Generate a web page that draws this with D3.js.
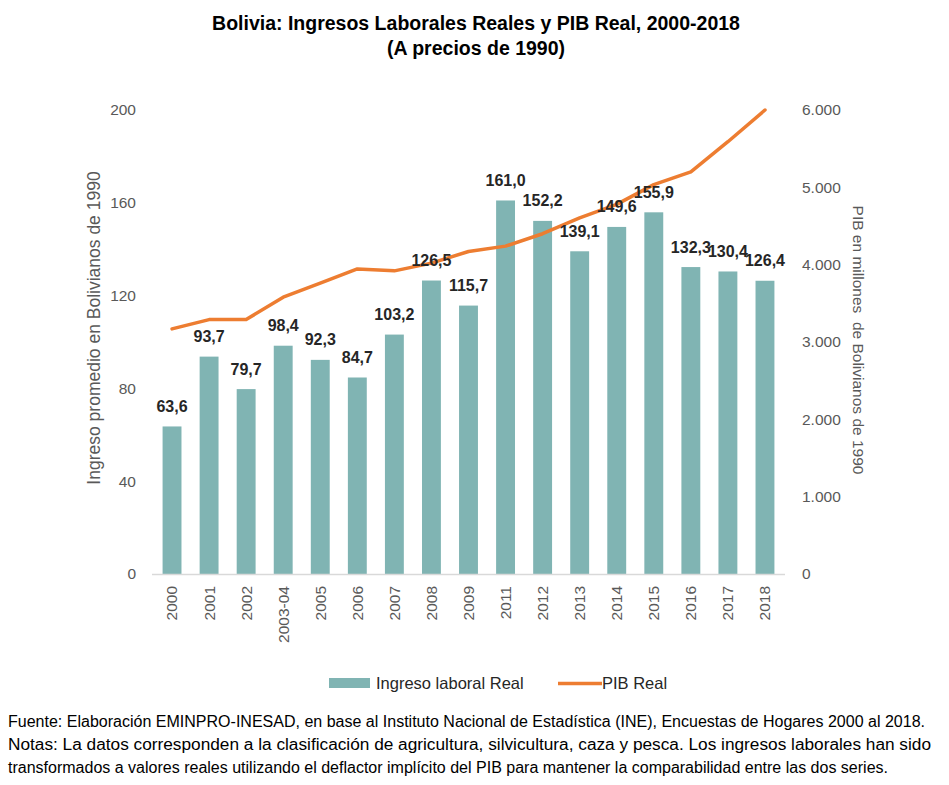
<!DOCTYPE html>
<html>
<head>
<meta charset="utf-8">
<script src="https://cdn.jsdelivr.net/npm/d3@7"></script>
<style>
  body { margin: 0; background: #fff; }
  svg { display: block; font-family: "Liberation Sans", Arial, sans-serif; }
</style>
</head>
<body>
<svg id="chart" width="949" height="785"></svg>
<script>
  // Data
  var categories = ['2000', '2001', '2002', '2003-04', '2005', '2006', '2007', '2008', '2009',
    '2011', '2012', '2013', '2014', '2015', '2016', '2017', '2018']
  var ingreso = [63.6, 93.7, 79.7, 98.4, 92.3, 84.7, 103.2, 126.5, 115.7,
    161.0, 152.2, 139.1, 149.6, 155.9, 132.3, 130.4, 126.4]
  var pib = [3170, 3290, 3290, 3580, 3760, 3945, 3920, 4020, 4170,
    4240, 4400, 4605, 4780, 5035, 5200, 5590, 6000]
  var leftTicks = [0, 40, 80, 120, 160, 200]
  var rightTicks = [0, 1000, 2000, 3000, 4000, 5000, 6000]

  var BAR_COLOR = '#80b4b3'
  var LINE_COLOR = '#ed7d31'
  var AXIS_TEXT = '#595959'
  var FONT = '"Liberation Sans", Arial, sans-serif'

  var svg = d3.select('#chart')
  var fmtComma = function (v) { return v.toFixed(1).replace('.', ',') }
  var fmtThousands = function (v) {
    return v === 0 ? '0' : d3.format(',')(v).replace(/,/g, '.')
  }

  // Scales
  var x = d3.scaleBand()
    .domain(categories)
    .range([153.5, 783.5])
    .paddingInner(0.49)
    .paddingOuter(0.245)
  var yL = d3.scaleLinear().domain([0, 200]).range([574, 110])
  var yR = d3.scaleLinear().domain([0, 6000]).range([574, 110])

  // Title
  var title = svg.append('g')
    .attr('font-weight', 'bold')
    .attr('font-size', 19.5)
    .attr('text-anchor', 'middle')
    .attr('fill', '#000')
  title.append('text').attr('x', 476).attr('y', 30)
    .text('Bolivia: Ingresos Laborales Reales y PIB Real, 2000-2018')
  title.append('text').attr('x', 476).attr('y', 55)
    .text('(A precios de 1990)')

  // Left axis
  var left = svg.append('g')
    .attr('transform', 'translate(136,0)')
    .call(d3.axisLeft(yL).tickValues(leftTicks).tickSize(0).tickPadding(0))
  left.select('.domain').remove()
  left.selectAll('text').attr('font-size', 15.5).attr('fill', AXIS_TEXT)
    .attr('font-family', FONT)

  // Right axis
  var right = svg.append('g')
    .attr('transform', 'translate(802,0)')
    .call(d3.axisRight(yR).tickValues(rightTicks).tickSize(0).tickPadding(0)
      .tickFormat(fmtThousands))
  right.select('.domain').remove()
  right.selectAll('text').attr('font-size', 15.5).attr('fill', AXIS_TEXT)
    .attr('font-family', FONT)

  // Axis titles
  svg.append('text')
    .attr('transform', 'translate(100,328) rotate(-90)')
    .attr('text-anchor', 'middle')
    .attr('font-size', 17.5)
    .attr('fill', AXIS_TEXT)
    .text('Ingreso promedio en Bolivianos de 1990')
  svg.append('text')
    .attr('transform', 'translate(853,340) rotate(90)')
    .attr('text-anchor', 'middle')
    .attr('font-size', 15.5)
    .attr('fill', AXIS_TEXT)
    .attr('xml:space', 'preserve')
    .text('PIB en millones  de Bolivianos de 1990')

  // Bars
  svg.append('g')
    .selectAll('rect')
    .data(ingreso)
    .enter().append('rect')
    .attr('x', function (d, i) { return x(categories[i]) })
    .attr('y', function (d) { return yL(d) })
    .attr('width', x.bandwidth())
    .attr('height', function (d) { return yL(0) - yL(d) })
    .attr('fill', BAR_COLOR)

  // Baseline
  svg.append('line')
    .attr('x1', 152).attr('x2', 785)
    .attr('y1', yL(0) + 0.5).attr('y2', yL(0) + 0.5)
    .attr('stroke', '#d9d9d9')
    .attr('stroke-width', 1.5)

  // Category labels
  var bottom = svg.append('g')
    .attr('transform', 'translate(0,' + (yL(0) + 12) + ')')
    .call(d3.axisBottom(x).tickSize(0).tickPadding(0))
  bottom.select('.domain').remove()
  bottom.selectAll('text')
    .attr('font-size', 15.5)
    .attr('fill', AXIS_TEXT)
    .attr('font-family', FONT)
    .attr('text-anchor', 'end')
    .attr('dy', '0.35em')
    .attr('transform', 'rotate(-90)')

  // PIB line
  var line = d3.line()
    .x(function (d, i) { return x(categories[i]) + x.bandwidth() / 2 })
    .y(function (d) { return yR(d) })
  svg.append('path')
    .datum(pib)
    .attr('d', line)
    .attr('fill', 'none')
    .attr('stroke', LINE_COLOR)
    .attr('stroke-width', 3.5)
    .attr('stroke-linejoin', 'round')
    .attr('stroke-linecap', 'round')

  // Data labels
  svg.append('g')
    .selectAll('text')
    .data(ingreso)
    .enter().append('text')
    .attr('x', function (d, i) { return x(categories[i]) + x.bandwidth() / 2 })
    .attr('y', function (d) { return yL(d) - 14.5 })
    .attr('text-anchor', 'middle')
    .attr('font-size', 16)
    .attr('font-weight', 'bold')
    .attr('fill', '#262626')
    .text(fmtComma)

  // Legend
  var legend = svg.append('g').attr('font-size', 16.5).attr('fill', '#262626')
  legend.append('rect').attr('x', 329).attr('y', 678).attr('width', 41).attr('height', 10)
    .attr('fill', BAR_COLOR)
  legend.append('text').attr('x', 376).attr('y', 689).text('Ingreso laboral Real')
  legend.append('line').attr('x1', 558).attr('x2', 602).attr('y1', 683.5).attr('y2', 683.5)
    .attr('stroke', LINE_COLOR).attr('stroke-width', 3.5)
  legend.append('text').attr('x', 602).attr('y', 689).text('PIB Real')

  // Notes
  var notes = svg.append('g').attr('font-size', 16).attr('fill', '#000')
  notes.append('text').attr('x', 8).attr('y', 727)
    .attr('textLength', 917).attr('lengthAdjust', 'spacingAndGlyphs')
    .text('Fuente: Elaboración EMINPRO-INESAD, en base al Instituto Nacional de Estadística (INE), Encuestas de Hogares 2000 al 2018.')
  notes.append('text').attr('x', 8).attr('y', 750)
    .attr('textLength', 923).attr('lengthAdjust', 'spacingAndGlyphs')
    .text('Notas: La datos corresponden a la clasificación de agricultura, silvicultura, caza y pesca. Los ingresos laborales han sido')
  notes.append('text').attr('x', 8).attr('y', 773)
    .attr('textLength', 880).attr('lengthAdjust', 'spacingAndGlyphs')
    .text('transformados a valores reales utilizando el deflactor implícito del PIB para mantener la comparabilidad entre las dos series.')
</script>
</body>
</html>
